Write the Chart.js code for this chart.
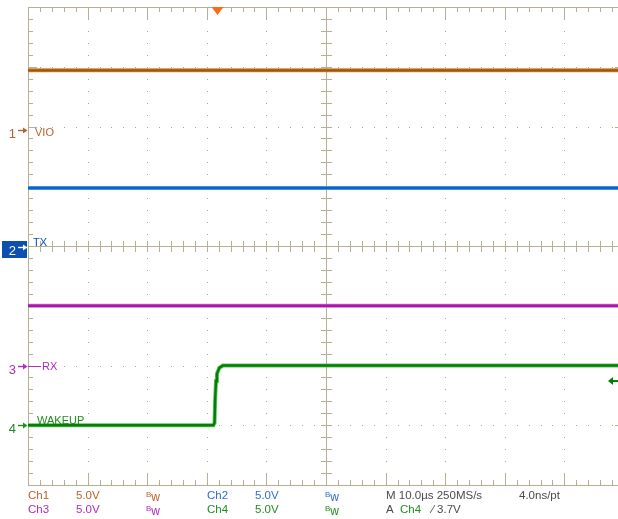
<!DOCTYPE html>
<html lang="en">
<head>
  <meta charset="UTF-8" />
  <title>VIO / TX / RX / WAKEUP capture</title>
  <script src="https://cdn.jsdelivr.net/npm/chart.js"></script>
  <style>
    html, body { margin: 0; padding: 0; background: #fff; overflow: hidden; width: 618px; height: 519px; }
    .screen { position: relative; width: 630px; height: 519px; }
    .screen canvas { position: absolute; left: 0; top: 0; }
    .status span { position: absolute; font-family: "Liberation Sans", Arial, sans-serif; font-size: 11.5px; line-height: 11.5px; white-space: nowrap; }
    .status .bw { font-size: 12px; }
    .status .bw b { font-weight: normal; font-size: 8px; vertical-align: 4px; }
    .c1 { color: #b4642a; }
    .c2 { color: #2e6cd0; }
    .c3 { color: #b02cbc; }
    .c4 { color: #1f8c1f; }
    .gr { color: #4a4a4a; }
  </style>
</head>
<body>
  <div class="screen">
    <canvas id="scope" width="630" height="519"></canvas>
    <div class="status">
      <span class="c1" style="left:28px;top:490px">Ch1</span>
      <span class="c1" style="left:76px;top:490px">5.0V</span>
      <span class="c1 bw" style="left:146px;top:489px"><b>B</b>w</span>
      <span class="c2" style="left:207px;top:490px">Ch2</span>
      <span class="c2" style="left:255px;top:490px">5.0V</span>
      <span class="c2 bw" style="left:325px;top:489px"><b>B</b>w</span>
      <span class="gr" style="left:386px;top:490px">M 10.0µs 250MS/s</span>
      <span class="gr" style="left:519px;top:490px">4.0ns/pt</span>

      <span class="c3" style="left:28px;top:504px">Ch3</span>
      <span class="c3" style="left:76px;top:504px">5.0V</span>
      <span class="c3 bw" style="left:146px;top:503px"><b>B</b>w</span>
      <span class="c4" style="left:207px;top:504px">Ch4</span>
      <span class="c4" style="left:255px;top:504px">5.0V</span>
      <span class="c4 bw" style="left:325px;top:503px"><b>B</b>w</span>
      <span class="gr" style="left:386px;top:504px">A</span>
      <span class="c4" style="left:400px;top:504px">Ch4</span>
      <span class="gr" style="left:432px;top:504px">⁄ 3.7V</span>
    </div>
  </div>

  <script>
    // time in µs (10 µs/div), voltages in V (5 V/div)
    const flatTime = [0, 100];
    const vioVolts = [5.0, 5.0];
    const txVolts = [4.95, 4.95];
    const rxVolts = [5.05, 5.05];
    const wakeupTime = [0, 31.1, 31.3, 31.4, 31.55, 31.7, 32.1, 32.7, 100];
    const wakeupVolts = [0.0, 0.0, 0.2, 2.2, 3.7, 4.3, 4.8, 5.0, 5.0];

    const channelNames = ["VIO", "TX", "RX", "WAKEUP"];
    const triggerTime = 31.8;   // µs
    const triggerLevel = 3.7;   // V on Ch4

    // scope settings: ground marker position (divisions from bottom), volts per division
    const POSITIONS = [5.94, 3.98, 1.99, 1.0];
    const VOLTS_PER_DIV = 5;
    const DIVS_Y = 8;

    const CORE = ["#a65408", "#1560c0", "#a818a8", "#0a7a0a"];
    const GLOW = ["#c98a3c", "#44a6e6", "#d070d4", "#58cc58"];
    const MARK = ["#b4642a", "#0b4fb0", "#b02cbc", "#1f8c1f"];
    const GRID = "#b7af94";
    const DOT = "#aca58e";

    const series = [
      { t: flatTime, v: vioVolts },
      { t: flatTime, v: txVolts },
      { t: flatTime, v: rxVolts },
      { t: wakeupTime, v: wakeupVolts }
    ];

    // glow drawn under the core line (higher order = drawn first)
    const datasets = [];
    series.forEach((s, i) => {
      const pts = s.t.map((t, k) => ({ x: t, y: s.v[k] }));
      datasets.push({ data: pts, yAxisID: "y" + (i + 1), borderColor: GLOW[i], borderWidth: 4, pointRadius: 0, tension: 0, order: 2 });
      datasets.push({ data: pts, yAxisID: "y" + (i + 1), borderColor: CORE[i], borderWidth: 2.4, pointRadius: 0, tension: 0, order: 1 });
    });

    const scales = {
      x: { type: "linear", min: 0, max: 100, display: false },
      yDiv: { type: "linear", min: 0, max: DIVS_Y, display: false }
    };
    POSITIONS.forEach((p, i) => {
      scales["y" + (i + 1)] = {
        type: "linear", display: false,
        min: -p * VOLTS_PER_DIV,
        max: (DIVS_Y - p) * VOLTS_PER_DIV
      };
    });

    function hLine(ctx, x1, x2, y) {
      ctx.beginPath(); ctx.moveTo(x1, Math.round(y) + 0.5); ctx.lineTo(x2, Math.round(y) + 0.5); ctx.stroke();
    }
    function vLine(ctx, x, y1, y2) {
      ctx.beginPath(); ctx.moveTo(Math.round(x) + 0.5, y1); ctx.lineTo(Math.round(x) + 0.5, y2); ctx.stroke();
    }

    const graticule = {
      id: "graticule",
      beforeDatasetsDraw(chart) {
        const { ctx, chartArea: a } = chart;
        const x = chart.scales.x, y = chart.scales.yDiv;
        ctx.save();
        ctx.fillStyle = DOT;
        // dotted division lines
        for (let d = 1; d < 10; d++) {
          if (d === 5) continue;
          const px = Math.round(x.getPixelForValue(d * 10));
          for (let m = 1; m < DIVS_Y * 5; m++) ctx.fillRect(px, Math.round(y.getPixelForValue(m * 0.2)), 1, 1);
        }
        for (let d = 1; d < DIVS_Y; d++) {
          if (d === 4) continue;
          const py = Math.round(y.getPixelForValue(d));
          for (let m = 1; m < 50; m++) ctx.fillRect(Math.round(x.getPixelForValue(m * 2)), py, 1, 1);
        }
        ctx.strokeStyle = GRID;
        ctx.lineWidth = 1;
        // centre cross with ticks
        const cx = x.getPixelForValue(50), cy = y.getPixelForValue(4);
        vLine(ctx, cx, a.top, a.bottom);
        hLine(ctx, a.left, a.right, cy);
        for (let m = 1; m < DIVS_Y * 5; m++) hLine(ctx, cx - 5, cx + 6, y.getPixelForValue(m * 0.2));
        for (let m = 1; m < 50; m++) vLine(ctx, x.getPixelForValue(m * 2), cy - 5, cy + 6);
        // border with ticks
        hLine(ctx, a.left, a.right, a.top);
        hLine(ctx, a.left, a.right, a.bottom);
        vLine(ctx, a.left, a.top, a.bottom);
        vLine(ctx, a.right, a.top, a.bottom);
        for (let m = 1; m < 50; m++) {
          const px = x.getPixelForValue(m * 2), len = m % 5 === 0 ? 12 : 5;
          vLine(ctx, px, a.top, a.top + len);
          vLine(ctx, px, a.bottom - len, a.bottom);
        }
        for (let m = 1; m < DIVS_Y * 5; m++) {
          const py = y.getPixelForValue(m * 0.2), len = m % 5 === 0 ? 9 : 5;
          hLine(ctx, a.left, a.left + len, py);
          hLine(ctx, a.right - len, a.right, py);
        }
        ctx.restore();
      },
      afterDraw(chart) {
        const { ctx, chartArea: a } = chart;
        const x = chart.scales.x;
        ctx.save();
        // trigger position marker
        const tx = x.getPixelForValue(triggerTime);
        ctx.fillStyle = "#ff6a1a";
        ctx.beginPath(); ctx.moveTo(tx - 6, a.top); ctx.lineTo(tx + 6, a.top); ctx.lineTo(tx, a.top + 8); ctx.closePath(); ctx.fill();

        // trigger level arrow on Ch4
        const ly = chart.scales.y4.getPixelForValue(triggerLevel);
        ctx.fillStyle = CORE[3];
        ctx.beginPath(); ctx.moveTo(608, ly); ctx.lineTo(613, ly - 4); ctx.lineTo(613, ly + 4); ctx.closePath(); ctx.fill();
        ctx.fillRect(612, ly - 1, 6, 2);

        // ground markers and channel labels
        const labelDy = [6, -1, 3.5, -1.5];
        const labelX = [35, 33, 42, 37];
        POSITIONS.forEach((p, i) => {
          const gy = Math.round(chart.scales["y" + (i + 1)].getPixelForValue(0));
          let col = MARK[i];
          if (i === 1) {
            ctx.fillStyle = col; ctx.fillRect(2, gy - 6, 25, 17); col = "#fff";
          }
          ctx.fillStyle = col; ctx.strokeStyle = col;
          ctx.font = '13px "Liberation Sans", Arial, sans-serif';
          ctx.textAlign = "right"; ctx.textBaseline = "alphabetic";
          ctx.fillText(String(i + 1), 16, gy + 8);
          ctx.lineWidth = 1.4;
          ctx.beginPath(); ctx.moveTo(18, gy + 0.5); ctx.lineTo(24, gy + 0.5); ctx.stroke();
          ctx.beginPath(); ctx.moveTo(27.5, gy + 0.5); ctx.lineTo(23, gy - 2.5); ctx.lineTo(23, gy + 3.5); ctx.closePath(); ctx.fill();

          ctx.fillStyle = MARK[i]; ctx.strokeStyle = MARK[i];
          if (i === 2) { ctx.lineWidth = 1; hLine(ctx, a.left, labelX[i] - 1, gy); }
          ctx.font = '11px "Liberation Sans", Arial, sans-serif';
          ctx.textAlign = "left";
          ctx.fillText(channelNames[i], labelX[i], gy + labelDy[i]);
        });
        ctx.restore();
      }
    };

    new Chart(document.getElementById("scope"), {
      type: "line",
      data: { datasets: datasets },
      options: {
        responsive: false,
        animation: false,
        devicePixelRatio: 1,
        layout: { padding: { left: 28, top: 7, right: 6, bottom: 34 } },
        plugins: { legend: { display: false }, tooltip: { enabled: false } },
        scales: scales
      },
      plugins: [graticule]
    });
  </script>
</body>
</html>
